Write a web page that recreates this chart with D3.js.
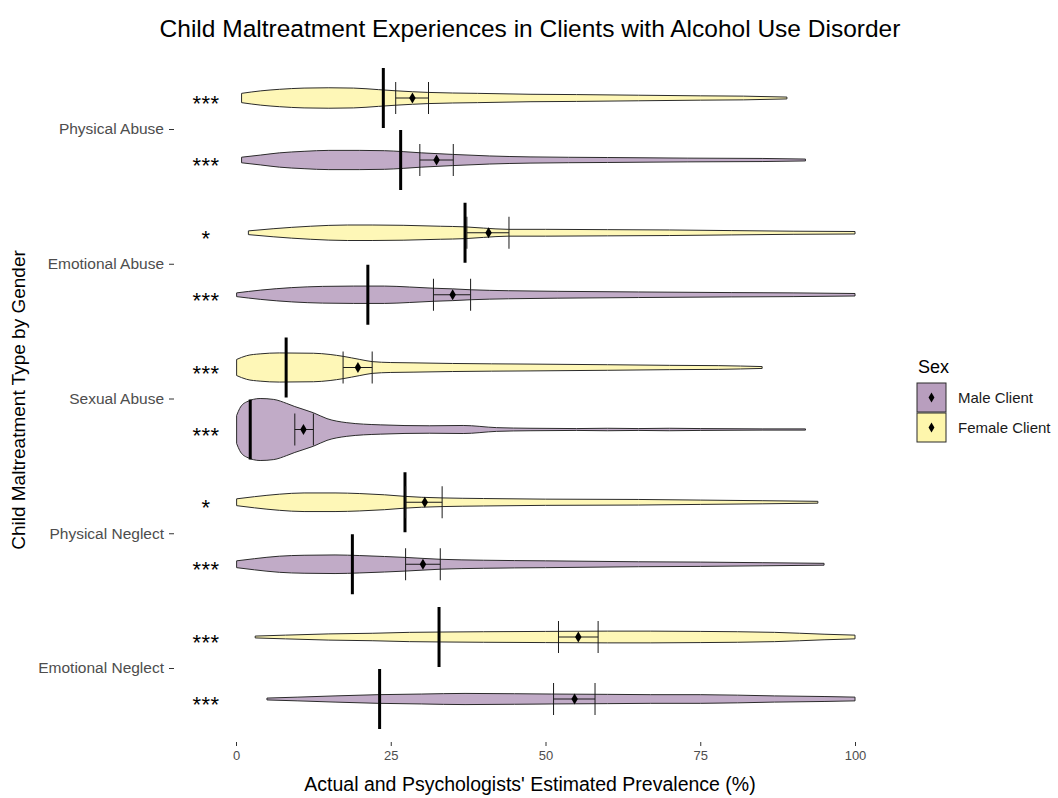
<!DOCTYPE html>
<html>
<head>
<meta charset="utf-8">
<script src="https://cdn.jsdelivr.net/npm/d3@7"></script>
<style>
body { margin: 0; background: #fff; font-family: "Liberation Sans", Arial, sans-serif; }
</style>
</head>
<body>
<div id="chart"></div>
<script>
const categories = ["Physical Abuse", "Emotional Abuse", "Sexual Abuse", "Physical Neglect", "Emotional Neglect"];
const sexes = ["Male Client", "Female Client"];

// thick bar = actual prevalence, diamond = mean estimate, whiskers = 95% CI
const actualFemale = [23.8, 37.0, 8.1, 27.3, 32.8];
const actualMale = [26.6, 21.3, 2.3, 18.8, 23.2];
const meanFemale = [28.5, 40.8, 19.7, 30.5, 55.3];
const meanMale = [32.4, 35.0, 10.9, 30.2, 54.7];
const ciLowFemale = [25.8, 37.3, 17.3, 27.4, 52.1];
const ciHighFemale = [31.1, 44.1, 22.0, 33.3, 58.5];
const ciLowMale = [29.7, 31.9, 9.5, 27.4, 51.3];
const ciHighMale = [35.1, 37.9, 12.5, 33.0, 58.0];
const sigFemale = ["***", "*", "***", "*", "***"];
const sigMale = ["***", "***", "***", "***", "***"];
const xTicks = [0, 25, 50, 75, 100];

// violin profiles: [estimated prevalence %, relative density (max = 100)]
const densityFemale = [
    [[0.9,15],[4,23],[7,28],[11,32],[15,33],[19,32],[23,27],[26,23],[31,18],[39,15],[47.5,12],[55,11],[65,9],[75,7],[82,6],[89,3]],
    [[2,6],[6,13],[12,21],[18,25],[22,25],[27,24],[33,21],[37,19],[40,15],[44,11],[50,11],[60,10],[70,9],[80,7],[90,5],[100,4]],
    [[0.1,26],[1.7,38],[3.9,44],[7,47],[12.5,46],[15.2,42],[17.3,36],[20,26],[22,19],[25,16],[28.6,15],[35,13],[47.5,11],[60,9],[70,7],[78,6],[85,3]],
    [[0.1,11],[3,18],[7,26],[11,30],[16,30],[20,28],[24,24],[27.3,19],[30,16],[33.3,14],[40,12],[50,10],[65,9],[75,7],[85,5],[94,3]],
    [[3.1,3],[8,6],[15,10],[22,12],[28,15],[33,16],[40,17],[50,18],[60,19],[67,19],[75,18],[87,15],[95,9],[100,6]]
];
const densityMale = [
    [[0.9,9],[4,16],[7,23],[11,28],[15,31],[20,31],[24,30],[27,27],[30,23],[35,18],[41,13],[47.5,10],[60,8],[73,6],[85,5],[92,3]],
    [[0.1,6],[4,15],[9,23],[14,27],[19,28],[24,28],[28,25],[32,21],[35,19],[38,16],[44,13],[52,11],[65,9],[80,7],[90,6],[100,4]],
    [[0.1,45],[0.6,68],[1.7,89],[3.9,100],[6.1,97],[8.2,84],[9.5,74],[12.5,54],[14.7,35],[17.9,22],[23.3,15],[31.3,12],[36.7,13],[42.1,6],[47.5,4],[55,3],[60,4],[65,3],[70,4],[75,3],[85,2],[92,2]],
    [[0.1,11],[3,18],[7,26],[11,29],[16,30],[20,28],[24,25],[27.4,22],[33,16],[40,13],[50,11],[65,8],[75,7],[85,5],[95,3]],
    [[5,3],[10,6],[16,10],[23,14],[30,16],[37,18],[45,17],[51,16],[60,15],[67,14],[75,14],[87,10],[95,8],[100,6]]
];

const width = 1058, height = 798;
const fills = { "Male Client": "#440154", "Female Client": "#FDE725" };
const fillOpacity = 0.33;
const font = "Liberation Sans, Arial, sans-serif";

const rows = [];
categories.forEach((c, i) => {
    rows.push({ cat: c, sex: "Female Client", density: densityFemale[i], actual: actualFemale[i],
        mean: meanFemale[i], lo: ciLowFemale[i], hi: ciHighFemale[i], sig: sigFemale[i] });
    rows.push({ cat: c, sex: "Male Client", density: densityMale[i], actual: actualMale[i],
        mean: meanMale[i], lo: ciLowMale[i], hi: ciHighMale[i], sig: sigMale[i] });
});

const svg = d3.select("#chart").append("svg")
    .attr("width", width)
    .attr("height", height)
    .style("background", "#fff");

const x = d3.scaleLinear().domain([0, 100]).range([236, 855]);
const yCat = d3.scalePoint().domain(categories).range([129, 668]);
const ySex = d3.scalePoint().domain(["Female Client", "Male Client"]).range([-31, 31]);
const w = d3.scaleLinear().domain([0, 100]).range([0, 31]);
const cy = d => yCat(d.cat) + ySex(d.sex);

// violins
const area = d3.area().curve(d3.curveMonotoneX);
svg.append("g").selectAll("path")
    .data(rows)
    .join("path")
    .attr("d", d => area
        .x(p => x(p[0]))
        .y0(p => cy(d) - w(p[1]))
        .y1(p => cy(d) + w(p[1]))(d.density))
    .attr("fill", d => fills[d.sex])
    .attr("fill-opacity", fillOpacity)
    .attr("stroke", "#2b2b2b")
    .attr("stroke-width", 1);

// actual prevalence
svg.append("g").selectAll("line")
    .data(rows)
    .join("line")
    .attr("x1", d => x(d.actual)).attr("x2", d => x(d.actual))
    .attr("y1", d => cy(d) - 30).attr("y2", d => cy(d) + 30)
    .attr("stroke", "#000")
    .attr("stroke-width", 3);

// confidence intervals
const ci = svg.append("g").attr("stroke", "#1a1a1a").attr("stroke-width", 1);
rows.forEach(d => {
    ci.append("line").attr("x1", x(d.lo)).attr("x2", x(d.hi)).attr("y1", cy(d)).attr("y2", cy(d));
    [d.lo, d.hi].forEach(v => {
        ci.append("line").attr("x1", x(v)).attr("x2", x(v)).attr("y1", cy(d) - 16).attr("y2", cy(d) + 16);
    });
});

// means
svg.append("g").selectAll("path")
    .data(rows)
    .join("path")
    .attr("d", d3.symbol(d3.symbolDiamond, 36))
    .attr("transform", d => `translate(${x(d.mean)},${cy(d)})`)
    .attr("fill", "#000");

// significance stars
svg.append("g").selectAll("text")
    .data(rows)
    .join("text")
    .attr("x", 206)
    .attr("y", d => cy(d) + 13)
    .attr("text-anchor", "middle")
    .style("font-size", "22px")
    .style("letter-spacing", "0.5px")
    .style("fill", "#000")
    .text(d => d.sig);

// x axis
const xAxis = svg.append("g")
    .attr("transform", "translate(0,742)")
    .call(d3.axisBottom(x).tickValues(xTicks).tickSize(4).tickPadding(5));
xAxis.select(".domain").remove();
xAxis.selectAll(".tick line").attr("stroke", "#333");
xAxis.selectAll("text").style("font-size", "13px").style("fill", "#4d4d4d").style("font-family", font);

// y axis
const yAxis = svg.append("g")
    .attr("transform", "translate(174,0)")
    .call(d3.axisLeft(yCat).tickSize(5).tickPadding(5));
yAxis.select(".domain").remove();
yAxis.selectAll(".tick line").attr("stroke", "#333");
yAxis.selectAll("text").style("font-size", "15.5px").style("fill", "#4d4d4d").style("font-family", font);

// titles
svg.append("text")
    .attr("x", 530).attr("y", 37)
    .attr("text-anchor", "middle")
    .style("font-size", "24.5px")
    .style("fill", "#000")
    .text("Child Maltreatment Experiences in Clients with Alcohol Use Disorder");

svg.append("text")
    .attr("x", 530).attr("y", 791)
    .attr("text-anchor", "middle")
    .style("font-size", "19.5px")
    .style("fill", "#000")
    .text("Actual and Psychologists' Estimated Prevalence (%)");

svg.append("text")
    .attr("transform", "translate(25,400) rotate(-90)")
    .attr("text-anchor", "middle")
    .style("font-size", "19px")
    .style("fill", "#000")
    .text("Child Maltreatment Type by Gender");

// legend
const legend = svg.append("g").attr("transform", "translate(917,360)");
legend.append("text")
    .attr("x", 1).attr("y", 13)
    .style("font-size", "18px")
    .text("Sex");

sexes.forEach((s, i) => {
    const row = legend.append("g").attr("transform", `translate(0, ${23 + i * 30})`);
    row.append("rect")
        .attr("width", 29).attr("height", 29)
        .attr("fill", "#fff");
    row.append("rect")
        .attr("width", 29).attr("height", 29)
        .attr("fill", fills[s])
        .attr("fill-opacity", fillOpacity + 0.05)
        .attr("stroke", "#2b2b2b");
    row.append("path")
        .attr("d", d3.symbol(d3.symbolDiamond, 30))
        .attr("transform", "translate(14.5,14.5)")
        .attr("fill", "#000");
    row.append("text")
        .attr("x", 41).attr("y", 14.5)
        .attr("dy", "0.35em")
        .style("font-size", "15px")
        .style("fill", "#1a1a1a")
        .text(s);
});
</script>
</body>
</html>
